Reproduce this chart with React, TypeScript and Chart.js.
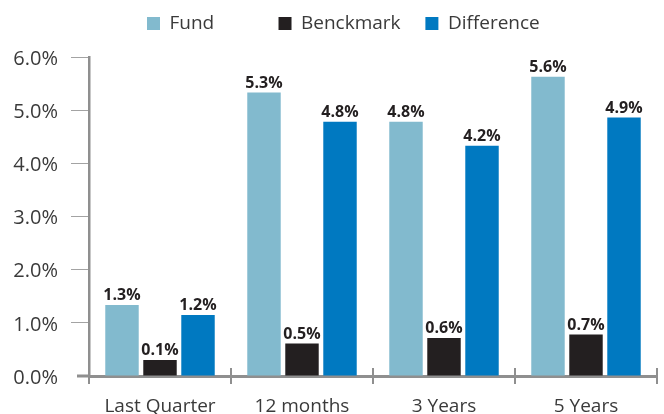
import React, { useEffect, useRef } from 'react';
import { Chart, registerables } from 'chart.js';

Chart.register(...registerables);

// ---- data ----
const categories = ['Last Quarter', '12 months', '3 Years', '5 Years'];
const seriesNames = ['Fund', 'Benckmark', 'Difference'];
const fundValues = [1.335, 5.33, 4.78, 5.63];
const benchmarkValues = [0.3, 0.61, 0.715, 0.78];
const differenceValues = [1.147, 4.78, 4.33, 4.86];
const fundLabels = ['1.3%', '5.3%', '4.8%', '5.6%'];
const benchmarkLabels = ['0.1%', '0.5%', '0.6%', '0.7%'];
const differenceLabels = ['1.2%', '4.8%', '4.2%', '4.9%'];
const yTickValues = [0, 1, 2, 3, 4, 5, 6];

// ---- styles ----
const FONT = "'Open Sans', sans-serif";
const TEXT = '#3a3a3a';
const LABEL = '#231f20';
const AXIS = '#8f8f8f';
const TICK = '#a3a3a3';
const COLORS = ['#82bace', '#231f20', '#0079c1'];
const LEGEND_TRAIL = [11, 3, 12];

Chart.defaults.font.family = FONT;

export default function App() {
  const ref = useRef<HTMLCanvasElement>(null);

  useEffect(() => {
    document.body.style.margin = '0';
    const canvas = ref.current;
    if (!canvas) return;

    const allLabels = [fundLabels, benchmarkLabels, differenceLabels];

    const barLabels = {
      id: 'barLabels',
      afterDatasetsDraw(chart: any) {
        const ctx = chart.ctx;
        ctx.save();
        ctx.font = `bold 16px ${FONT}`;
        ctx.fillStyle = LABEL;
        ctx.textAlign = 'center';
        ctx.textBaseline = 'alphabetic';
        allLabels.forEach((labels, i) => {
          chart.getDatasetMeta(i).data.forEach((bar: any, j: number) => {
            ctx.fillText(labels[j], bar.x, bar.y - 5);
          });
        });
        ctx.restore();
      },
    };

    const axisExtras = {
      id: 'axisExtras',
      afterDraw(chart: any) {
        const { ctx, chartArea } = chart;
        const xs = chart.scales.x;
        const n = categories.length;
        const w = (chartArea.right - chartArea.left) / n;
        ctx.save();
        ctx.strokeStyle = AXIS;
        ctx.lineWidth = 2;
        ctx.beginPath();
        for (let i = 0; i <= n; i++) {
          const x =
            i < n ? xs.getPixelForValue(i) - w / 2 : xs.getPixelForValue(n - 1) + w / 2;
          const px = Math.round(x);
          ctx.moveTo(px, chartArea.bottom - 8);
          ctx.lineTo(px, chartArea.bottom);
        }
        ctx.stroke();
        ctx.lineWidth = 3;
        ctx.beginPath();
        ctx.moveTo(chartArea.left - 12, chartArea.bottom);
        ctx.lineTo(chartArea.left, chartArea.bottom);
        ctx.stroke();
        ctx.restore();
      },
    };

    const chart = new Chart(canvas, {
      type: 'bar',
      data: {
        labels: categories,
        datasets: [
          { label: seriesNames[0], data: fundValues, backgroundColor: COLORS[0], borderWidth: 0 },
          { label: seriesNames[1], data: benchmarkValues, backgroundColor: COLORS[1], borderWidth: 0 },
          { label: seriesNames[2], data: differenceValues, backgroundColor: COLORS[2], borderWidth: 0 },
        ],
      },
      options: {
        responsive: false,
        animation: false,
        devicePixelRatio: 1,
        layout: { padding: { left: 0, right: 7, top: 4, bottom: 0 } },
        datasets: { bar: { categoryPercentage: 0.803, barPercentage: 0.88 } },
        plugins: {
          tooltip: { enabled: false },
          legend: {
            position: 'top',
            align: 'center',
            fullSize: false,
            labels: {
              boxWidth: 13,
              boxHeight: 13,
              padding: 10,
              color: TEXT,
              font: { family: FONT, size: 19 },
              generateLabels(c: any) {
                const items = (Chart.defaults.plugins.legend.labels as any).generateLabels(c);
                items.forEach((it: any, i: number) => {
                  it.text = it.text + ' '.repeat(LEGEND_TRAIL[i] || 0);
                  it.lineWidth = 0;
                });
                return items;
              },
            },
          },
        },
        scales: {
          x: {
            ticks: { color: TEXT, font: { size: 19 }, padding: 11, maxRotation: 0, autoSkip: false },
            grid: {
              offset: true,
              drawOnChartArea: false,
              drawTicks: true,
              tickLength: 8,
              color: AXIS,
              lineWidth: 2,
            },
            border: { display: true, color: AXIS, width: 3 },
            afterFit: (s: any) => {
              s.height = 38;
            },
          },
          pad: {
            type: 'category',
            position: 'top',
            display: true,
            ticks: { display: false },
            grid: { display: false },
            border: { display: false },
            afterFit: (s: any) => {
              s.height = 14;
            },
          },
          y: {
            min: 0,
            max: 6,
            afterBuildTicks: (s: any) => {
              s.ticks = yTickValues.map((v) => ({ value: v }));
            },
            ticks: {
              color: TEXT,
              font: { size: 20 },
              padding: 13,
              labelOffset: 2,
              callback: (v: any) => Number(v).toFixed(1) + '%',
            },
            grid: {
              drawOnChartArea: false,
              drawTicks: true,
              tickLength: 18,
              lineWidth: 1,
              color: (ctx: any) =>
                ctx.tick && ctx.tick.value === 0 ? 'rgba(0,0,0,0)' : TICK,
            },
            border: { display: true, color: AXIS, width: 2.5 },
            afterFit: (s: any) => {
              s.width = 89;
            },
          },
        },
      } as any,
      plugins: [barLabels, axisExtras],
    });

    return () => chart.destroy();
  }, []);

  return (
    <div style={{ width: 664, height: 414, position: 'relative' }}>
      <canvas ref={ref} width={664} height={414} style={{ display: 'block' }} />
    </div>
  );
}
